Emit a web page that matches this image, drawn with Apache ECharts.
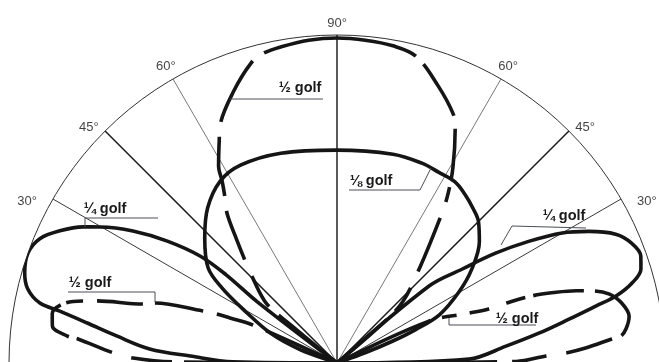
<!DOCTYPE html>
<html>
<head>
<meta charset="utf-8">
<style>
  html, body { margin: 0; padding: 0; background: #fff; }
  #chart { width: 659px; height: 362px; }
</style>
<script src="https://cdn.jsdelivr.net/npm/echarts@6/dist/echarts.min.js"></script>
</head>
<body>
<div id="chart"></div>
<script>
// Vertical radiation patterns, relative field strength (100 = outer circle).
// Each point is [relative strength, elevation angle in degrees, measured from the right horizon].

// 1/8 wavelength: single broad lobe
const eighthWave = [
  [0, 19], [9.1, 20], [18.3, 21.5], [25.9, 23], [34.5, 25.2], [43, 30.2], [50, 34.8],
  [57, 40.4], [61, 45], [62.8, 48.7], [64.6, 53], [65.9, 57], [65.9, 62], [66.2, 67],
  [65.9, 75], [64.9, 90], [66.2, 105], [67.1, 116], [65.9, 122.7], [61.6, 129.8],
  [55.5, 136.6], [48.8, 143.6], [41.8, 146.9], [32.3, 150.5], [22, 156],
  [12, 160], [0, 163]
];

// 1/4 wavelength: two low lobes
const quarterWaveRight = [
  [0, 0], [40.2, 1.7], [51.8, 5.7], [62.2, 8.4], [72, 10.7], [80.8, 12.4], [87.5, 13.5],
  [93.3, 15.2], [97, 17.2], [98.2, 19.4], [97, 22.1], [93.6, 24.8], [86.6, 27.6],
  [79.3, 30], [69.2, 32.4], [58.8, 34.7], [47.6, 36.9], [36.6, 39.9], [0, 40]
];
const quarterWaveLeft = [
  [0, 142], [30.5, 142.5], [43.3, 141.5], [53, 142], [63.7, 144.3], [74.1, 147.1],
  [83.2, 150.1], [87.8, 151.8], [93.6, 154.5], [98.2, 157.3], [100, 160.4], [99.1, 163.9],
  [97, 166.5], [92.4, 168.6], [86, 169.4], [77.1, 170.9], [67.7, 173], [57.3, 175.7],
  [44.8, 177.3], [31.7, 179.4], [0, 180]
];

// 1/2 wavelength: tall main lobe plus two low side lobes
const halfWaveTop = [
  [0, 40], [18.3, 41], [27.4, 43], [38.4, 49], [54.3, 54.6], [61, 56.5], [69.2, 59.3],
  [80.2, 63.3], [83.8, 65], [90, 70], [96.6, 75.6], [98.2, 80], [98.8, 85], [99.1, 90],
  [98.8, 95], [97.9, 100], [97, 103.5], [95.1, 106], [88.4, 111], [81.1, 116],
  [76.5, 118], [70.1, 121], [65.5, 122.3], [60.7, 124.2], [56.4, 126.4], [48.8, 129],
  [41.8, 132], [36.6, 134.7], [28, 139.9], [18.3, 140.5], [0, 141]
];
const halfWaveRight = [
  [0, 0], [54.6, 0.5], [63.7, 1.9], [69.8, 2.5], [76.2, 3.5], [84.1, 5], [86.9, 5.4],
  [88.7, 6.7], [90.2, 9.1], [88.7, 11.9], [85.7, 14.2], [80.8, 15.8], [76.2, 16.8],
  [69.5, 18], [62.8, 19], [54.6, 19.5], [49.1, 19.6], [43, 20.7], [30.8, 24.5], [0, 25]
];
const halfWaveLeft = [
  [0, 155], [28, 155.7], [35.4, 157.2], [39.6, 157.8], [43.9, 158.8], [58.5, 161.8],
  [61.9, 163.1], [75.6, 165.5], [79.9, 166.3], [85.4, 167.8], [88.1, 170.2], [87.5, 172.6],
  [82.6, 174.3], [79.3, 174.7], [68.3, 177.4], [62.2, 178.6], [50, 179.6], [0, 180]
];

// Reference directions drawn as spokes, with their angle labels
const spokeAngles = [30, 45, 60, 90, 120, 135, 150];
const spokeLabels = ['30°', '45°', '60°', '90°', '60°', '45°', '30°'];

// Curve captions
const captionTexts = ['½ golf', '⅛ golf', '¼ golf', '½ golf', '¼ golf', '½ golf'];

const INK = '#151515';
const FONT = '"Liberation Sans", Arial, "DejaVu Sans", sans-serif';

// hand-drawn style dash runs (dash, gap, dash, ...) in pixels along each path
const dashTop = [66, 12, 28, 18, 58, 17, 15, 8, 51, 13, 60, 11, 157, 14, 69, 15, 60, 15, 52, 18, 35, 13, 80, 20];
const dashRight = [160, 15, 35, 20, 48, 10, 67, 11, 51, 8, 20, 18, 20, 13, 15, 12, 110, 10];
const dashLeft = [78, 14, 38, 14, 49, 12, 46, 14, 17, 6, 45, 8, 38, 20, 41, 12, 50, 12, 100, 10];

const spokeStyle = {
  30: { width: 1, color: '#3a3a3a' },
  45: { width: 1.5, color: '#1a1a1a' },
  60: { width: 0.8, color: '#555' },
  90: { width: 1.5, color: '#222' }
};
const labelPlace = {
  30: { r: 106.5, shift: 2.5 },
  45: { r: 104.3, shift: 1.5 },
  60: { r: 104.3, shift: 0 },
  90: { r: 103.4, shift: 0 }
};

function lobe(data, dash) {
  return {
    type: 'line',
    coordinateSystem: 'polar',
    data: data,
    smooth: 0.35,
    symbol: 'none',
    clip: false,
    silent: true,
    lineStyle: {
      color: INK,
      width: 3.6,
      type: dash || 'solid',
      cap: 'butt',
      join: 'round'
    },
    z: 5
  };
}

const series = [];

spokeAngles.forEach(function (a) {
  const e = Math.min(a, 180 - a);
  const st = spokeStyle[e];
  series.push({
    type: 'line',
    coordinateSystem: 'polar',
    data: [[0, a], [101.5, a]],
    symbol: 'none',
    clip: false,
    silent: true,
    lineStyle: { color: st.color, width: st.width },
    z: 2
  });
});

series.push({
  type: 'scatter',
  coordinateSystem: 'polar',
  symbolSize: 0,
  clip: false,
  silent: true,
  data: spokeAngles.map(function (a, i) {
    const e = Math.min(a, 180 - a);
    const p = labelPlace[e];
    const ang = a < 90 ? a - p.shift : (a > 90 ? a + p.shift : a);
    return { value: [p.r, ang], name: spokeLabels[i] };
  }),
  label: {
    show: true,
    position: 'inside',
    formatter: function (d) { return d.name; },
    color: '#111',
    fontSize: 13,
    fontFamily: FONT
  },
  z: 3
});

series.push(lobe(eighthWave));
series.push(lobe(quarterWaveRight));
series.push(lobe(quarterWaveLeft));
series.push(lobe(halfWaveTop, dashTop));
series.push(lobe(halfWaveRight, dashRight));
series.push(lobe(halfWaveLeft, dashLeft));

// caption anchors and their leader lines
const captionPos = [[300, 88], [371, 181], [105, 209], [90, 283], [564, 216], [517, 319]];
const leaders = [
  [[230, 99], [323, 99]],
  [[349, 190], [420, 190], [431, 168]],
  [[85, 227], [85, 218], [158, 218]],
  [[68, 292], [155, 292], [155, 302]],
  [[501, 245], [512, 226], [586, 228]],
  [[449, 318], [449, 325], [536, 325]]
];

const graphic = [];
leaders.forEach(function (pts) {
  graphic.push({
    type: 'polyline',
    shape: { points: pts },
    style: { stroke: '#4a4f58', lineWidth: 1, fill: null },
    silent: true,
    z: 10
  });
});
captionTexts.forEach(function (t, i) {
  graphic.push({
    type: 'text',
    x: captionPos[i][0],
    y: captionPos[i][1],
    style: {
      text: t,
      fill: '#1a1a1a',
      font: 'bold 14.5px ' + FONT,
      align: 'center',
      verticalAlign: 'middle'
    },
    silent: true,
    z: 10
  });
});

const chart = echarts.init(document.getElementById('chart'), null, { renderer: 'canvas' });
chart.setOption({
  animation: false,
  backgroundColor: '#ffffff',
  polar: { center: [337, 363], radius: 328 },
  angleAxis: {
    type: 'value',
    min: 0,
    max: 360,
    startAngle: 0,
    clockwise: false,
    axisLine: { show: true, lineStyle: { color: '#333', width: 1 } },
    axisTick: { show: false },
    axisLabel: { show: false },
    splitLine: { show: false }
  },
  radiusAxis: {
    type: 'value',
    min: 0,
    max: 100,
    axisLine: { show: false },
    axisTick: { show: false },
    axisLabel: { show: false },
    splitLine: { show: false }
  },
  series: series,
  graphic: graphic
});
</script>
</body>
</html>
